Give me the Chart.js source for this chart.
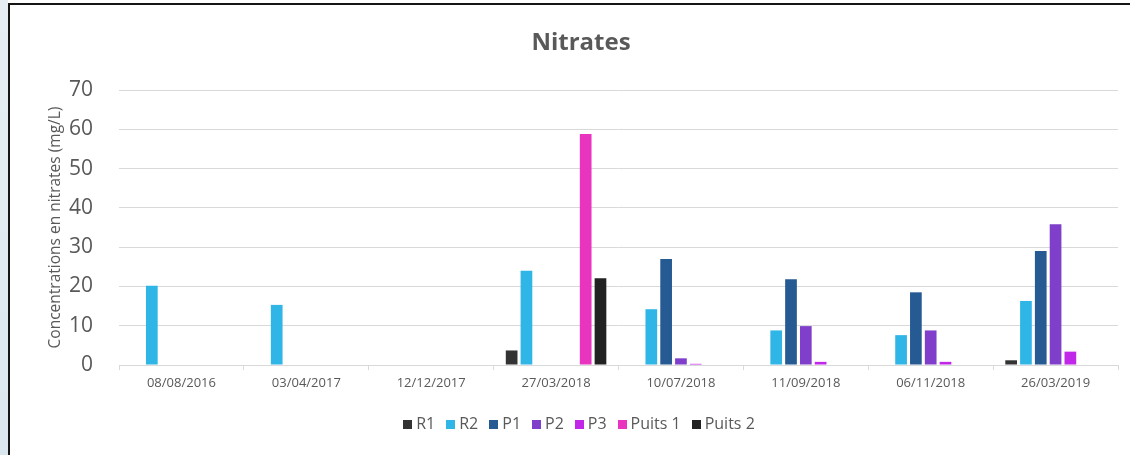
<!DOCTYPE html>
<html>
<head>
<meta charset="utf-8">
<script src="https://cdn.jsdelivr.net/npm/chart.js@4/dist/chart.umd.min.js"></script>
<style>
  html, body { margin: 0; padding: 0; width: 1130px; height: 455px; overflow: hidden; background: #ffffff; }
  #strip { position: absolute; left: 0; top: 0; width: 8px; height: 455px; background: linear-gradient(#e6eef3, #dbe7ee); }
  #frame { position: absolute; left: 8px; top: 3px; width: 1200px; height: 500px; border-top: 2px solid #151515; border-left: 2px solid #151515; box-sizing: border-box; background: #ffffff; }
  #wrap { position: absolute; left: 10px; top: 5px; width: 1142px; height: 450px; }
</style>
</head>
<body>
<div id="strip"></div>
<div id="frame"></div>
<div id="wrap"><canvas id="chart" width="1142" height="450"></canvas></div>
<script>
// Sampling dates
const dates = ['08/08/2016', '03/04/2017', '12/12/2017', '27/03/2018', '10/07/2018', '11/09/2018', '06/11/2018', '26/03/2019'];

// Nitrate concentrations (mg/L) per sampling point; null = not measured
const r1     = [null, null, null, 3.7, null, null, null, 1.2];
const r2     = [20.2, 15.3, null, 24.0, 14.2, 8.8, 7.6, 16.3];
const p1     = [null, null, null, null, 27.0, 21.8, 18.5, 29.0];
const p2     = [null, null, null, null, 1.7, 9.9, 8.8, 35.8];
const p3     = [null, null, null, null, 0.3, 0.8, 0.8, 3.4];
const puits1 = [null, null, null, 58.8, null, null, null, null];
const puits2 = [null, null, null, 22.1, null, null, null, null];

const yTicks = [0, 10, 20, 30, 40, 50, 60, 70];

const FONT = "'Open Sans', 'Liberation Sans', sans-serif";
const GREY = '#595959';
const LINE = '#d9d9d9';

function series(label, data, color) {
  return { label, data, backgroundColor: color, borderWidth: 0, categoryPercentage: 0.83, barPercentage: 0.79 };
}

// Small square legend swatch, drawn as an image point style so the label sits close to it
function swatch(color) {
  const c = document.createElement('canvas');
  c.width = 9;
  c.height = 9;
  const g = c.getContext('2d');
  g.fillStyle = color;
  g.fillRect(0, 0, 9, 9);
  return c;
}

new Chart(document.getElementById('chart'), {
  type: 'bar',
  data: {
    labels: dates,
    datasets: [
      series('R1', r1, '#333333'),
      series('R2', r2, '#2fb5e6'),
      series('P1', p1, '#255a93'),
      series('P2', p2, '#7f3fca'),
      series('P3', p3, '#c027e8'),
      series('Puits 1', puits1, '#e834bf'),
      series('Puits 2', puits2, '#222222')
    ]
  },
  options: {
    responsive: false,
    animation: false,
    layout: { padding: { left: 34, right: 34, top: 0, bottom: 13 } },
    plugins: {
      title: {
        display: true,
        text: 'Nitrates',
        color: GREY,
        font: { family: FONT, size: 24, weight: 'bold' },
        padding: { top: 23.6, bottom: 32.6 }
      },
      legend: {
        position: 'bottom',
        labels: {
          color: GREY,
          font: { family: FONT, size: 16 },
          usePointStyle: true,
          boxWidth: 1,
          boxHeight: 9,
          padding: 15,
          generateLabels: chart => Chart.defaults.plugins.legend.labels.generateLabels(chart).map((item, i) =>
            Object.assign(item, { pointStyle: swatch(chart.data.datasets[i].backgroundColor) }))
        }
      },
      tooltip: { enabled: false }
    },
    scales: {
      x: {
        grid: { drawOnChartArea: false, drawTicks: true, tickLength: 5, color: LINE, offset: true },
        border: { display: true, color: LINE, width: 1 },
        ticks: { color: GREY, font: { family: FONT, size: 13 }, padding: 5, maxRotation: 0, autoSkip: false },
        afterFit: s => { s.height = 36; }
      },
      y: {
        min: 0,
        max: 70,
        afterBuildTicks: s => { s.ticks = yTicks.map(v => ({ value: v })); },
        grid: { color: LINE, lineWidth: 1, drawTicks: false },
        border: { display: false },
        ticks: { color: GREY, font: { family: FONT, size: 21 }, padding: 26 },
        title: {
          display: true,
          text: 'Concentrations en nitrates (mg/L)',
          color: GREY,
          font: { family: FONT, size: 15.5 },
          padding: { top: 2, bottom: 0 }
        },
        afterFit: s => { s.width = 75; }
      }
    }
  }
});
</script>
</body>
</html>
